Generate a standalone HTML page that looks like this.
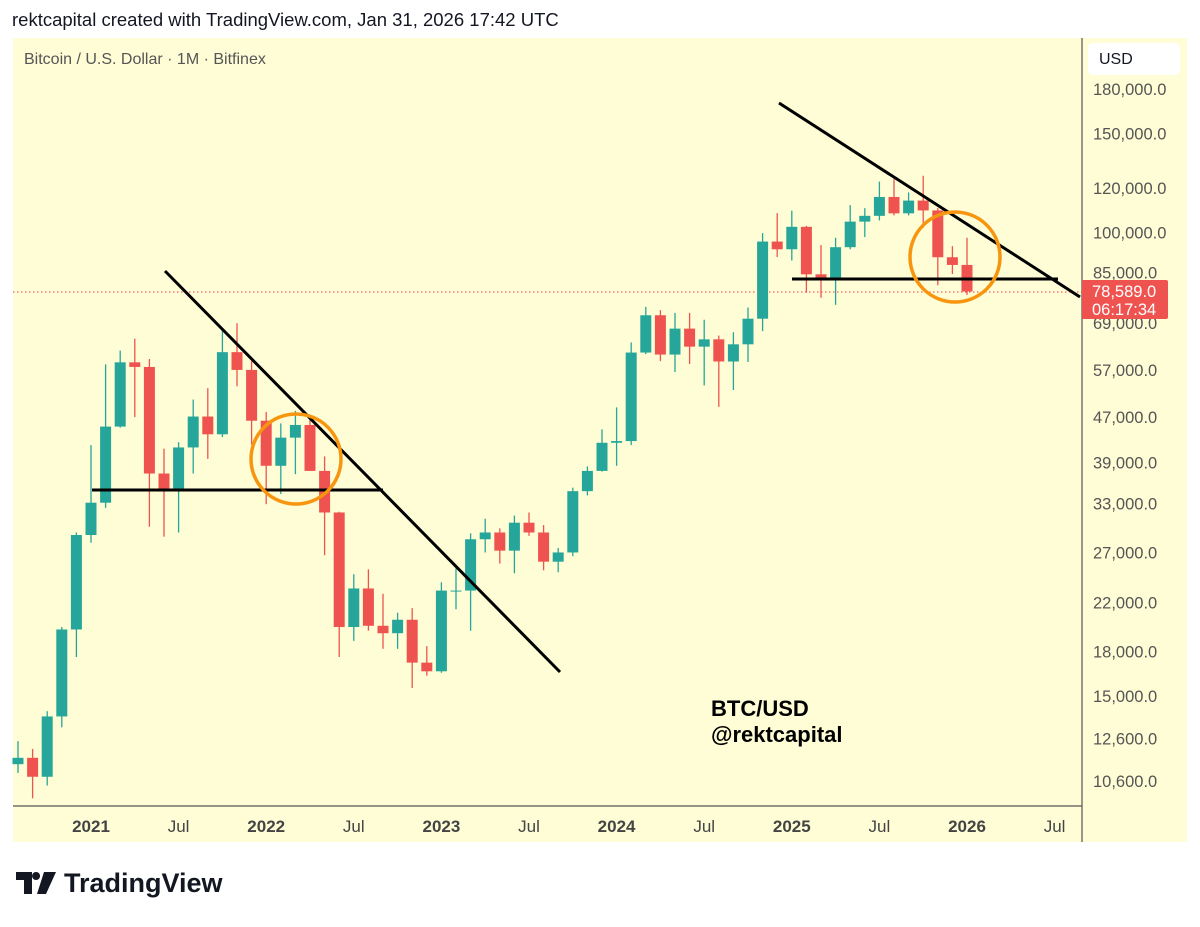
<!DOCTYPE html>
<html><head><meta charset="utf-8"><style>
body{margin:0;background:#fff;width:1200px;height:922px;overflow:hidden;font-family:"Liberation Sans",sans-serif}
</style></head><body>
<svg width="1200" height="922" xmlns="http://www.w3.org/2000/svg" font-family="Liberation Sans, sans-serif">
<text x="12" y="26" font-size="18.5" fill="#131722">rektcapital created with TradingView.com, Jan 31, 2026 17:42 UTC</text>
<rect x="13" y="38" width="1174" height="804" fill="#FEFDD6"/>
<line x1="1082" y1="38" x2="1082" y2="842" stroke="#555" stroke-width="1.2"/>
<line x1="13" y1="806" x2="1082" y2="806" stroke="#555" stroke-width="1.2"/>
<text x="24" y="64" font-size="16" fill="#555">Bitcoin / U.S. Dollar · 1M · Bitfinex</text>
<rect x="1088" y="43" width="92" height="32" rx="5" fill="#fff"/>
<text x="1099" y="64" font-size="16" fill="#131722">USD</text>
<g id="yaxis"></g><g id="xaxis"></g>
<line x1="13" y1="292" x2="1082" y2="292" stroke="#F23645" stroke-width="1" stroke-dasharray="1.5,2.5"/>
<g id="candles"></g>
<g stroke="#000" stroke-width="3" fill="none">
<line x1="165" y1="271" x2="560" y2="672"/>
<line x1="92" y1="490" x2="383" y2="490"/>
<line x1="779" y1="103" x2="1080" y2="297"/>
<line x1="792" y1="279" x2="1058" y2="279"/>
</g>
<circle cx="296" cy="459" r="45" fill="none" stroke="#F7960E" stroke-width="3.5"/>
<circle cx="955" cy="257" r="45" fill="none" stroke="#F7960E" stroke-width="3.5"/>
<text x="711" y="716" font-size="22" font-weight="bold" fill="#000">BTC/USD</text>
<text x="711" y="742" font-size="22" font-weight="bold" fill="#000">@rektcapital</text>
<rect x="1082" y="280" width="86" height="39" rx="2" fill="#EF5350"/>
<text x="1092" y="297" font-size="16.5" fill="#fff">78,589.0</text>
<text x="1092" y="315" font-size="16.5" fill="#fff">06:17:34</text>
<g>
<path d="M16 872h16v22h-8v-14h-8z M36 872a4 4 0 1 0 0.1 0z M44 872h12l-10 22h-9z" fill="#131722"/>
<text x="64" y="892" font-size="27" font-weight="bold" fill="#131722">TradingView</text>
</g>
</svg>
<script>
const months=["2020-08","2020-09","2020-10","2020-11","2020-12","2021-01","2021-02","2021-03","2021-04","2021-05","2021-06","2021-07","2021-08","2021-09","2021-10","2021-11","2021-12","2022-01","2022-02","2022-03","2022-04","2022-05","2022-06","2022-07","2022-08","2022-09","2022-10","2022-11","2022-12","2023-01","2023-02","2023-03","2023-04","2023-05","2023-06","2023-07","2023-08","2023-09","2023-10","2023-11","2023-12","2024-01","2024-02","2024-03","2024-04","2024-05","2024-06","2024-07","2024-08","2024-09","2024-10","2024-11","2024-12","2025-01","2025-02","2025-03","2025-04","2025-05","2025-06","2025-07","2025-08","2025-09","2025-10","2025-11","2025-12","2026-01"];
const opens=[11350,11650,10780,13800,19700,29000,33100,45200,58800,57700,37300,35000,41500,47100,43800,61300,57000,46300,38500,43200,45500,37700,31800,19900,23300,20000,19400,20500,17200,16600,23100,23100,28500,29300,27200,30500,29300,26000,27000,34700,37700,42300,42600,61200,71300,60700,67500,62700,64600,59000,63300,70300,96400,93400,102400,84300,82500,94200,104600,107100,115700,108200,114000,109500,90400,87600];
const highs=[12470,12080,14100,19900,29300,41900,58300,61700,64800,59600,41300,42400,50500,52900,67000,69000,59100,48000,45800,48200,47400,40000,31900,24700,25200,22800,21100,21500,18400,23900,25300,29200,31000,29800,31400,31800,30200,27500,35200,38400,44700,48900,63800,73800,72800,72000,72000,70000,65600,66500,73600,99800,108300,109400,102800,95000,97900,111900,110500,123200,124500,117900,126200,110600,94600,97900];
const lows=[10950,9870,10400,13200,17600,28100,32400,45000,47000,30000,28800,29300,37300,39600,43300,53300,42000,32900,34300,37200,37700,26700,17600,18800,19600,18200,18200,15500,16300,16500,21400,19600,27000,25800,24800,28900,25100,24900,26600,34100,37600,38500,41900,60800,59100,56500,58400,53500,49000,52500,58900,66800,90500,89200,78200,76600,74400,93400,98200,105100,107300,107300,102000,80600,84400,77500];
const closes=[11650,10780,13800,19700,29000,33100,45200,58800,57700,37300,35000,41500,47100,43800,61300,57000,46300,38500,43200,45500,37700,31800,19900,23300,20000,19400,20500,17200,16600,23100,23100,28500,29300,27200,30500,29300,26000,27000,34700,37700,42300,42600,61200,71300,60700,67500,62700,64600,59000,63300,70300,96400,93400,102400,84300,82500,94200,104600,107100,115700,108200,114000,109500,90400,87600,78589];
const priceTicks=[180000,150000,120000,100000,85000,69000,57000,47000,39000,33000,27000,22000,18000,15000,12600,10600];
const timeLabels=["2021","Jul","2022","Jul","2023","Jul","2024","Jul","2025","Jul","2026","Jul"];
const timeLabelMonths=["2021-01","2021-07","2022-01","2022-07","2023-01","2023-07","2024-01","2024-07","2025-01","2025-07","2026-01","2026-07"];
const NS="http://www.w3.org/2000/svg";
function y(p){return 89+(Math.log(180000)-Math.log(p))*244.3;}
function mIdx(m){const [a,b]=m.split("-").map(Number);return (a-2020)*12+(b-8);}
function x(m){return 18+mIdx(m)*14.6;}
function el(t,a,p){const e=document.createElementNS(NS,t);for(const k in a)e.setAttribute(k,a[k]);p.appendChild(e);return e;}
const ya=document.getElementById('yaxis');
priceTicks.forEach(p=>{const t=el('text',{x:1093,y:y(p)+6,'font-size':16.5,fill:'#555'},ya);t.textContent=p.toLocaleString('en-US')+'.0';

});
const xa=document.getElementById('xaxis');
timeLabels.forEach((l,i)=>{const yr=l!=="Jul";const t=el('text',{x:x(timeLabelMonths[i]),y:832,'font-size':17,'text-anchor':'middle',fill:'#444','font-weight':yr?'bold':'normal'},xa);t.textContent=l;

});
const cg=document.getElementById('candles');
months.forEach((m,i)=>{const up=closes[i]>=opens[i];const c=up?'#26A69A':'#EF5350';const cx=x(m);
const g=el('g',{},cg);


el('line',{x1:cx,x2:cx,y1:y(highs[i]),y2:y(lows[i]),stroke:c,'stroke-width':1.3},g);
const t=y(Math.max(opens[i],closes[i])),b=y(Math.min(opens[i],closes[i]));
el('rect',{x:cx-5.5,y:t,width:11,height:Math.max(1,b-t),fill:c},g);});
</script>
</body></html>
